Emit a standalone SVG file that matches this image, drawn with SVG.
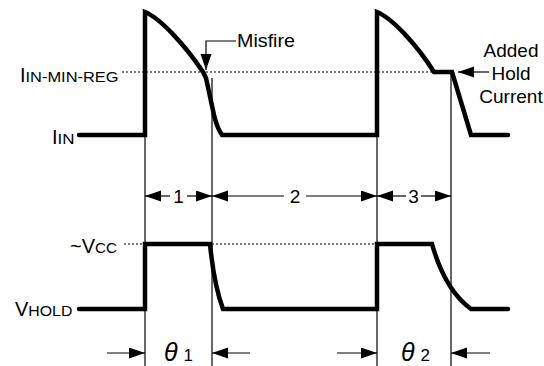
<svg xmlns="http://www.w3.org/2000/svg" width="544" height="366" viewBox="0 0 544 366">
<style>
.wave{fill:none;stroke:#000;stroke-width:4.5;stroke-linecap:round;stroke-linejoin:miter}
.thin{fill:none;stroke:#000;stroke-width:1.2}
.dot{fill:none;stroke:#000;stroke-width:1.1;stroke-dasharray:2,2}
.dim{fill:none;stroke:#000;stroke-width:1.2;marker-end:url(#ah)}
text{font-family:"Liberation Sans",Arial,sans-serif;fill:#000}
.lbl{font-size:19px}
.big{font-size:20px}
.sub{font-size:15px}
.th{font-size:25px;font-style:italic}
</style>
<defs>
<marker id="ah" markerUnits="userSpaceOnUse" markerWidth="17" markerHeight="12" refX="16" refY="5.5" orient="auto">
<path d="M0,0 L16,5.5 L0,11 z" fill="#000"/>
</marker>
</defs>
<g id="guides">
<line class="thin" x1="145" y1="12" x2="145" y2="366"/>
<line class="thin" x1="212" y1="78" x2="212" y2="366"/>
<line class="thin" x1="377" y1="12" x2="377" y2="366"/>
<line class="thin" x1="451" y1="72" x2="451" y2="366"/>
<line class="dot" x1="122" y1="72" x2="434" y2="72"/>
<line class="dot" x1="124" y1="244" x2="377" y2="244"/>
</g>
<g id="iin-wave">
<path class="wave" d="M79,135 L145,135 L145,12 C160,18 185,45 203,72 L206,78 L214,115 Q217,128 222,135 L377,135 L377,12 C392,18 417,45 434,72 L452,72 L471,135 L508,135"/>
</g>
<g id="vcc-wave">
<path class="wave" d="M79,309 L145,309 L145,244 L210,244 Q214,285 223,309 L377,309 L377,244 L432,244 Q445,290 471,309 L508,309"/>
</g>
<g id="labels">
<text x="20" y="82"><tspan class="big">I</tspan><tspan class="sub" textLength="93" lengthAdjust="spacingAndGlyphs">IN-MIN-REG</tspan></text>
<text x="52" y="144"><tspan class="big">I</tspan><tspan class="sub" textLength="17" lengthAdjust="spacingAndGlyphs">IN</tspan></text>
<text x="70" y="253"><tspan class="big">~V</tspan><tspan class="sub" textLength="22" lengthAdjust="spacingAndGlyphs">CC</tspan></text>
<text x="15" y="316"><tspan class="big">V</tspan><tspan class="sub" textLength="44" lengthAdjust="spacingAndGlyphs">HOLD</tspan></text>
</g>
<g id="misfire">
<text class="lbl" x="237" y="47" textLength="58" lengthAdjust="spacingAndGlyphs">Misfire</text>
<polyline class="dim" points="236,41 206,41 206,70"/>
</g>
<g id="hold-note">
<text class="lbl" x="511" y="57" text-anchor="middle">Added</text>
<text class="lbl" x="511" y="80" text-anchor="middle">Hold</text>
<text class="lbl" x="511" y="103" text-anchor="middle">Current</text>
<line class="dim" x1="489" y1="72" x2="458" y2="72"/>
</g>
<g id="connectors">
<line class="dim" x1="170" y1="196" x2="145" y2="196"/>
<line class="dim" x1="187" y1="196" x2="212" y2="196"/>
<line class="dim" x1="284" y1="196" x2="212" y2="196"/>
<line class="dim" x1="306" y1="196" x2="377" y2="196"/>
<line class="dim" x1="406" y1="196" x2="377" y2="196"/>
<line class="dim" x1="421" y1="196" x2="451" y2="196"/>
<line class="dim" x1="107" y1="353" x2="145" y2="353"/>
<line class="dim" x1="250" y1="353" x2="212" y2="353"/>
<line class="dim" x1="337" y1="353" x2="377" y2="353"/>
<line class="dim" x1="490" y1="353" x2="451" y2="353"/>
</g>
<g id="dim-labels">
<text class="lbl" x="178.5" y="203" text-anchor="middle">1</text>
<text class="lbl" x="295" y="203" text-anchor="middle">2</text>
<text class="lbl" x="413.5" y="203" text-anchor="middle">3</text>
<text x="164" y="361"><tspan class="th">θ</tspan><tspan font-size="17px" dx="6">1</tspan></text>
<text x="401" y="361"><tspan class="th">θ</tspan><tspan font-size="17px" dx="6">2</tspan></text>
</g>
</svg>
